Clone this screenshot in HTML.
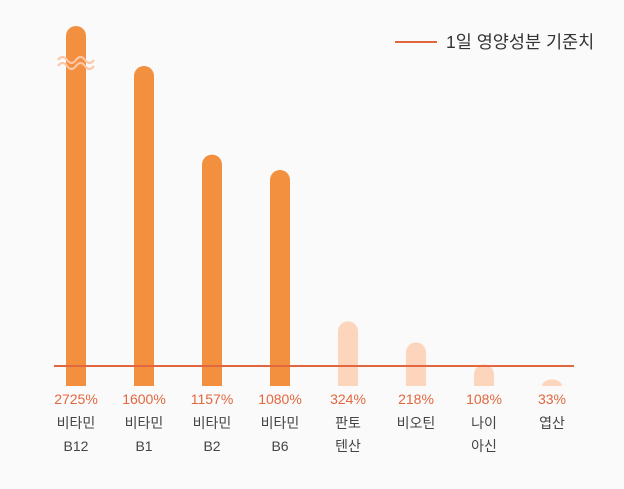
<!DOCTYPE html>
<html><head><meta charset="utf-8"><style>
body{margin:0;background:#fafafa;width:624px;height:484px;overflow:hidden;font-family:"Liberation Sans","Noto Sans CJK KR",sans-serif}
</style></head><body>
<svg id="c" width="624" height="484" xmlns="http://www.w3.org/2000/svg">
<rect width="624" height="484" fill="#fafafa"/>
<g>
<line x1="395" y1="42" x2="437" y2="42" stroke="#e2673e" stroke-width="2"/>
<text x="446" y="48" font-size="17.5" fill="#333">1일 영양성분 기준치</text>
</g>
</svg>
<script>
const names1=["비타민","비타민","비타민","비타민","판토","비오틴","나이","엽산"];
const names2=["B12","B1","B2","B6","텐산","","아신",""];
const values=[2725,1600,1157,1080,324,218,108,33];
const refValue=100;
const cap=1800;
const svg=document.getElementById('c');
const NS='http://www.w3.org/2000/svg';
const base=386, pxPer=0.2, x0=76, step=68, bw=20;
const xs=i=>x0+i*step;
const ys=v=>base-Math.min(v,cap)*pxPer;
function mk(t,a){const e=document.createElementNS(NS,t);for(const k in a)e.setAttribute(k,a[k]);svg.appendChild(e);return e;}
values.forEach((v,i)=>{
  const x=xs(i), top=ys(v), h=base-top, r=bw/2;
  const strong=v>=1000;
  const col=strong?'#f29040':'#fdd5bd';
  const p=mk('path',{d:h>r?`M${x-r},${base}V${top+r}A${r},${r} 0 0 1 ${x+r},${top+r}V${base}Z`:`M${x-r},${base}A${r},${h} 0 0 1 ${x+r},${base}Z`,fill:col});
  
  
  if(v>cap){
    for(let k=0;k<2;k++){
      const w=mk('path',{d:`M${x-18},${60+k*6} q4.5,-6 9,0 t9,0 t9,0 t9,0`,fill:'none',stroke:'#fcc7a8','stroke-width':2.2});
      
      
    }
  }
  const t=mk('text',{x:x,y:404,'text-anchor':'middle','font-size':14,fill:'#e2673e'});
  t.textContent=v+'%';
  
  
  const n1=mk('text',{x:x,y:428,'text-anchor':'middle','font-size':14,fill:'#444'});
  n1.textContent=names1[i];
  
  
  if(names2[i]){
    const n2=mk('text',{x:x,y:451,'text-anchor':'middle','font-size':14,fill:'#444'});
    n2.textContent=names2[i];
    
    
  }
});
const rl=mk('line',{x1:54,x2:574,y1:ys(refValue),y2:ys(refValue),stroke:'#e2673e','stroke-width':2});


</script>
</body></html>
